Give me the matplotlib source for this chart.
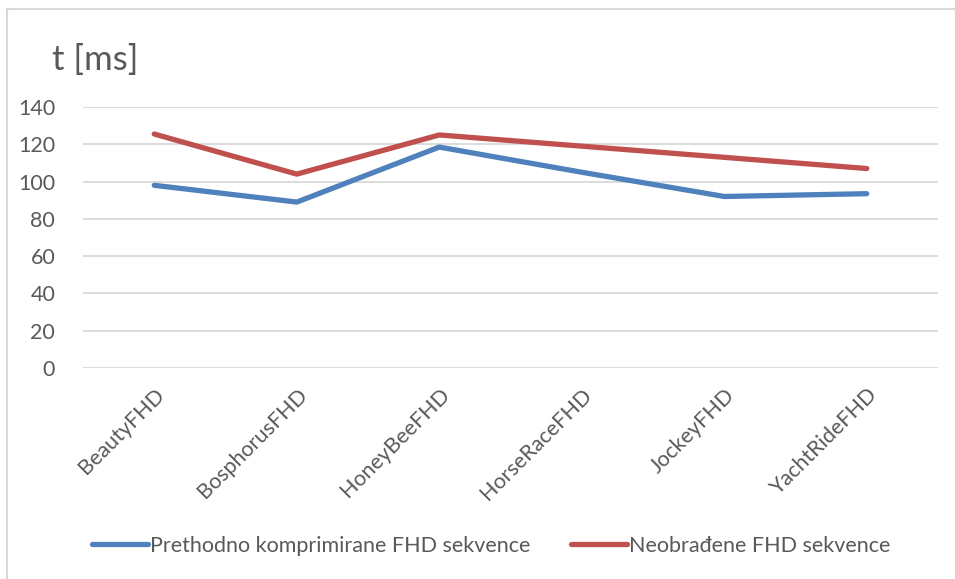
import matplotlib.pyplot as plt
import numpy as np
from matplotlib.lines import Line2D

plt.rcParams['font.family'] = ['Lato', 'DejaVu Sans']

categories = ['BeautyFHD', 'BosphorusFHD', 'HoneyBeeFHD', 'HorseRaceFHD', 'JockeyFHD', 'YachtRideFHD']
komprimirane = [98, 89, 118.5, 105, 92, 93.5]
neobradjene = [125.5, 104, 125, 119, 113, 107]
series_names = ['Prethodno komprimirane FHD sekvence', 'Neobrađene FHD sekvence']

blue = '#4F81BD'
red = '#C0504D'
txt = '#595959'

fig = plt.figure(figsize=(9.55, 5.79), dpi=100)
ax = fig.add_axes([83/955, 1 - 368/579, 855/955, 261/579])

x = np.arange(len(categories))
ax.plot(x, komprimirane, color=blue, lw=3.8, solid_capstyle='round', solid_joinstyle='round', zorder=3)
ax.plot(x, neobradjene, color=red, lw=3.8, solid_capstyle='round', solid_joinstyle='round', zorder=3)

ax.set_xlim(-0.5, len(categories) - 0.5)
ax.set_ylim(0, 140)
ax.set_yticks(np.arange(0, 141, 20))
ax.grid(axis='y', color='#D9D9D9', lw=1.3)
ax.set_axisbelow(True)
for s in ax.spines.values():
    s.set_visible(False)
ax.tick_params(axis='both', length=0, colors=txt, labelsize=15.5)
ax.tick_params(axis='y', pad=20)
ax.set_xticks(x)
ax.set_xticklabels(categories, rotation=45, ha='right', rotation_mode='anchor')
ax.tick_params(axis='x', pad=12)

fig.text(52/955, 1 - 60/579, 't [ms]', fontsize=25, color=txt, va='center', ha='left')

handles = [Line2D([0], [0], color=blue, lw=3.8, solid_capstyle='round'),
           Line2D([0], [0], color=red, lw=3.8, solid_capstyle='round')]
fig.legend(handles, series_names, loc='center', bbox_to_anchor=(491/955, 1 - 546/579),
           ncol=2, frameon=False, fontsize=15.5, labelcolor=txt, handlelength=2.6,
           handletextpad=0.1, columnspacing=1.9)

# partial border of the chart area
fig.add_artist(Line2D([7/955, 1], [1 - 9/579, 1 - 9/579], color='#D9D9D9', lw=1.5, transform=fig.transFigure))
fig.add_artist(Line2D([7/955, 7/955], [0, 1 - 9/579], color='#D9D9D9', lw=1.5, transform=fig.transFigure))

fig.savefig('out.png', dpi=100)
